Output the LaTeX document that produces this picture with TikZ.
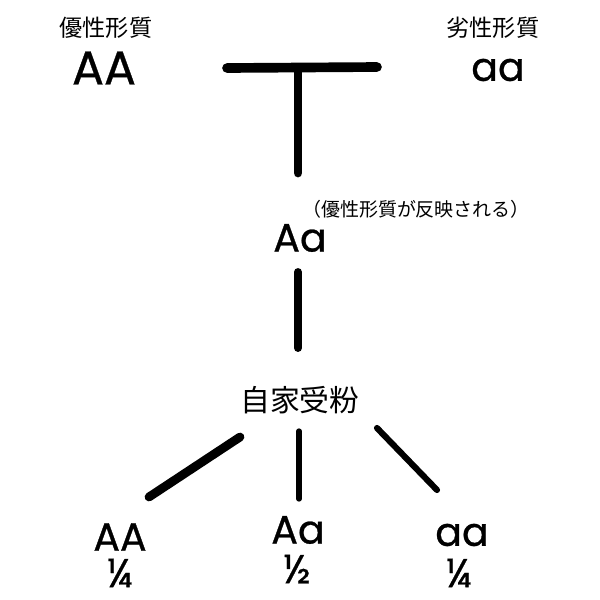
\documentclass[tikz,border=0pt]{standalone}
\usepackage{fontspec}
\setmainfont{Poppins}[UprightFeatures={FakeBold=0.7}]
\newfontfamily\jp{Noto Sans CJK JP}
\begin{document}
\begin{tikzpicture}[x=0.02cm,y=-0.02cm,
  jlab/.style={inner sep=0pt,font=\jp\fontsize{13.2}{14}\selectfont},
  big/.style={inner sep=0pt,font=\fontsize{27}{28}\selectfont},
  mid/.style={inner sep=0pt,font=\fontsize{22.5}{24}\selectfont},
  frac/.style={inner sep=0pt,font=\fontsize{23}{25}\selectfont},
  bar/.style={line cap=round,line width=#1}]
\useasboundingbox (0,0) rectangle (600,600);
\node[jlab] (dom) at (106,28) {優性形質};
\node[jlab] (rec) at (493,28) {劣性形質};
\node[big] (AA) at (104,68) {AA};
\node[mid] (aa) at (498,70) {aa};
\coordinate (tl) at (227,68);
\coordinate (tr) at (377,67);
\coordinate (tm) at (298,68);
\coordinate (tb) at (298,173);
\draw[bar=5.5pt] (tl) -- (tr);
\draw[bar=5pt] (tm) -- (tb);
\node[jlab,font=\jp\fontsize{10.8}{12}\selectfont] (note) at (416,209) {（優性形質が反映される）};
\node[mid] (F1) at (300,238) {Aa};
\coordinate (v1) at (298,272);
\coordinate (v2) at (298,348);
\draw[bar=4.5pt] (v1) -- (v2);
\node[jlab,font=\jp\fontsize{17}{18}\selectfont] (self) at (300,400) {自家受粉};
\coordinate (l1) at (240,437);
\coordinate (l2) at (149,497);
\coordinate (m1) at (299,431);
\coordinate (m2) at (299,499);
\coordinate (r1) at (377,428);
\coordinate (r2) at (437,490);
\draw[bar=5pt] (l1) -- (l2);
\draw[bar=3pt] (m1) -- (m2);
\draw[bar=3.5pt] (r1) -- (r2);
\node[mid] (c1) at (120,537) {AA};
\node[mid] (c2) at (298,530) {Aa};
\node[mid] (c3) at (462,535) {aa};
\node[frac] (p1) at (120,573) {¼};
\node[frac] (p2) at (297,569) {½};
\node[frac] (p3) at (459,573) {¼};
\end{tikzpicture}
\end{document}
